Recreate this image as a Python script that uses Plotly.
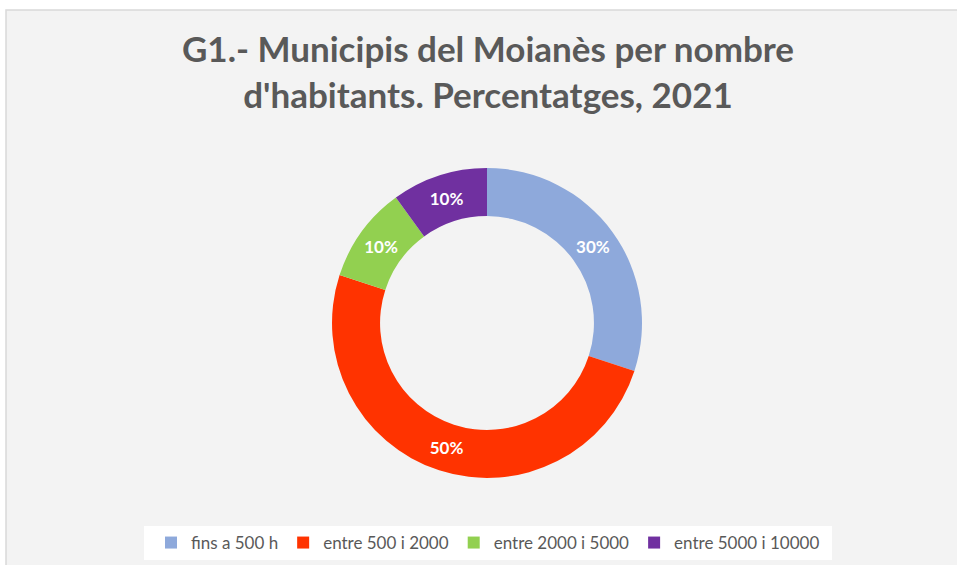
import plotly.graph_objects as go

categories = ["fins a 500 h", "entre 500 i 2000", "entre 2000 i 5000", "entre 5000 i 10000"]
values = [30, 50, 10, 10]
colors = ["#8EA9DB", "#FF3300", "#92D050", "#7030A0"]
title_text = "G1.- Municipis del Moianès per nombre<br>d'habitants. Percentatges, 2021"

W, H = 957, 565

fig = go.Figure(go.Pie(
    labels=categories,
    values=values,
    marker=dict(colors=colors, line=dict(width=0)),
    hole=0.69,
    sort=False,
    direction="clockwise",
    rotation=0,
    texttemplate="%{value}%",
    textposition="inside",
    insidetextorientation="horizontal",
    textfont=dict(family="Lato", size=17, color="white", weight="bold"),
    domain=dict(x=[332 / W, 642 / W], y=[(H - 478) / H, (H - 168) / H]),
    hoverinfo="label+percent",
))

fig.update_layout(
    width=W, height=H,
    margin=dict(l=0, r=0, t=0, b=0),
    paper_bgcolor="white",
    plot_bgcolor="white",
    title=dict(
        text=title_text,
        x=488 / W, xanchor="center",
        y=1 - 62 / H, yanchor="middle",
        font=dict(family="Lato", size=35, color="#595959", weight="bold"),
    ),
    showlegend=True,
    legend=dict(
        orientation="h",
        x=488 / W, xanchor="center",
        y=1 - 543 / H, yanchor="middle",
        bgcolor="rgba(0,0,0,0)",
        font=dict(family="Lato", size=17, color="#595959"),
        traceorder="normal",
    ),
    shapes=[
        dict(type="rect", xref="paper", yref="paper",
             x0=6 / W, x1=1.01, y0=-0.01, y1=1 - 10 / H,
             fillcolor="#F3F3F3", line=dict(color="#D9D9D9", width=1.5),
             layer="below"),
        dict(type="rect", xref="paper", yref="paper",
             x0=144 / W, x1=832 / W, y0=1 - 560 / H, y1=1 - 526 / H,
             fillcolor="white", line=dict(width=0), layer="below"),
    ],
)

fig.write_html(
    "out.html",
    config={"displayModeBar": False},
    post_script="document.body.style.margin='0';document.body.style.overflow='hidden';",
)
